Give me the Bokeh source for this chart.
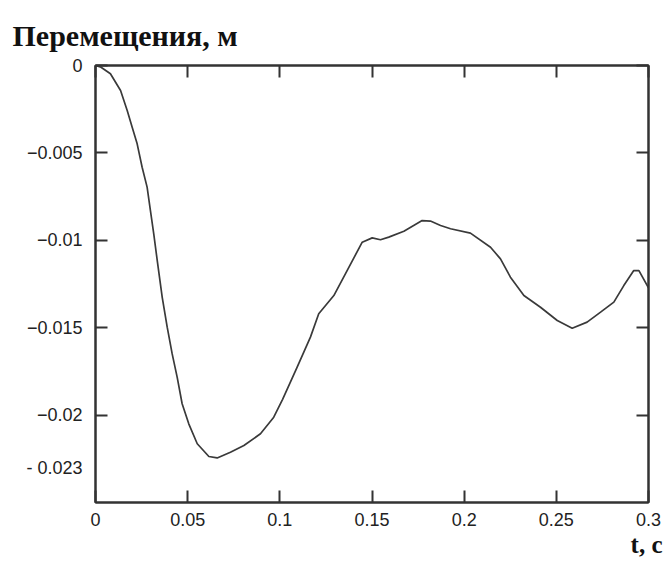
from bokeh.plotting import figure
from bokeh.models import Range1d, LinearAxis, FixedTicker, Title
from bokeh.embed import file_html
from bokeh.resources import INLINE

# time, s
t = [0, 0.003, 0.0081, 0.0136, 0.0172, 0.0199, 0.0226, 0.0253, 0.028, 0.0298,
     0.0316, 0.0335, 0.0362, 0.0389, 0.0416, 0.0443, 0.047, 0.0506, 0.0552, 0.0615,
     0.066, 0.0732, 0.0805, 0.0895, 0.0967, 0.1015, 0.1094, 0.1166, 0.1211, 0.1293,
     0.1365, 0.1447, 0.1501, 0.1546, 0.1591, 0.1673, 0.1772, 0.1817, 0.1872, 0.1926,
     0.2034, 0.2143, 0.2197, 0.2251, 0.2324, 0.2414, 0.2505, 0.2586, 0.2667, 0.274,
     0.2812, 0.2866, 0.292, 0.2948, 0.3]
# displacement, m
u = [0, -0.0001, -0.00047, -0.00143, -0.00257, -0.00353, -0.00448, -0.00582, -0.00696, -0.0083,
     -0.00963, -0.01116, -0.01326, -0.01497, -0.0165, -0.01783, -0.01935, -0.0205, -0.02164, -0.02237,
     -0.02245, -0.02212, -0.02174, -0.02107, -0.02012, -0.0191, -0.01726, -0.01554, -0.0142, -0.01316,
     -0.01173, -0.01011, -0.00986, -0.00997, -0.00982, -0.00948, -0.00887, -0.0089, -0.00915, -0.00934,
     -0.00959, -0.0104, -0.01106, -0.01211, -0.01316, -0.01383, -0.01459, -0.01503, -0.01468, -0.01411,
     -0.01354, -0.01259, -0.01173, -0.01173, -0.01272]

x_ticks = [0, 0.05, 0.1, 0.15, 0.2, 0.25, 0.3]
x_tick_labels = ["0", "0.05", "0.1", "0.15", "0.2", "0.25", "0.3"]
y_ticks = [0, -0.005, -0.01, -0.015, -0.02]
y_label_ticks = [0, -0.005, -0.01, -0.015, -0.02, -0.023]
y_tick_labels = ["0", "\u22120.005", "\u22120.01", "\u22120.015", "\u22120.02", "- 0.023"]
title_text = "Перемещения, м"
x_title = "t, c"

FRAME = "#333333"
LINE = "#3a3a3a"
LABEL_FONT = "Liberation Sans"
SERIF = "Liberation Serif"

p = figure(width=664, height=566, output_backend="svg", toolbar_location=None,
           x_range=Range1d(0, 0.3), y_range=Range1d(-0.025, 0),
           x_axis_location=None, y_axis_location=None,
           min_border_left=95, min_border_right=16, min_border_top=65, min_border_bottom=64)
p.grid.visible = False
p.background_fill_color = "white"
p.border_fill_color = "white"
p.outline_line_color = FRAME
p.outline_line_width = 2

def tick_axis(ticks):
    ax = LinearAxis(ticker=FixedTicker(ticks=ticks, minor_ticks=[]))
    ax.major_label_overrides = {v: "" for v in ticks}
    ax.axis_line_color = FRAME
    ax.axis_line_width = 2
    ax.major_tick_line_color = FRAME
    ax.major_tick_line_width = 2
    ax.major_tick_in = 12
    ax.major_tick_out = 0
    ax.minor_tick_line_color = None
    ax.major_label_standoff = 0
    ax.major_label_text_font_size = "0px"
    return ax

def label_axis(ticks, labels, standoff, with_ticks):
    ax = LinearAxis(ticker=FixedTicker(ticks=ticks, minor_ticks=[]))
    ax.major_label_overrides = {v: s for v, s in zip(ticks, labels)}
    ax.axis_line_color = FRAME if with_ticks else None
    ax.axis_line_width = 2
    ax.major_tick_line_color = FRAME if with_ticks else None
    ax.major_tick_line_width = 2
    ax.major_tick_in = 12 if with_ticks else 0
    ax.major_tick_out = 0
    ax.minor_tick_line_color = None
    ax.major_label_standoff = standoff
    ax.major_label_text_font = LABEL_FONT
    ax.major_label_text_font_size = "18px"
    ax.major_label_text_color = "#222222"
    return ax

p.add_layout(label_axis(x_ticks, x_tick_labels, 10, True), "below")
p.add_layout(tick_axis(y_ticks), "left")
p.add_layout(label_axis(y_label_ticks, y_tick_labels, 13, False), "left")
p.add_layout(tick_axis(x_ticks), "above")
p.add_layout(tick_axis(y_ticks), "right")

p.line(t, u, line_color=LINE, line_width=1.7)

p.add_layout(Title(text=x_title, align="right", offset=-14, standoff=0,
                   text_font=SERIF, text_font_style="bold", text_font_size="25px",
                   text_color="#111111"), "below")
p.add_layout(Title(text=title_text, align="left", offset=-83, standoff=28,
                   text_font=SERIF, text_font_style="bold", text_font_size="30px",
                   text_color="#111111"), "above")

open("out.html", "w").write(file_html(p, INLINE))
